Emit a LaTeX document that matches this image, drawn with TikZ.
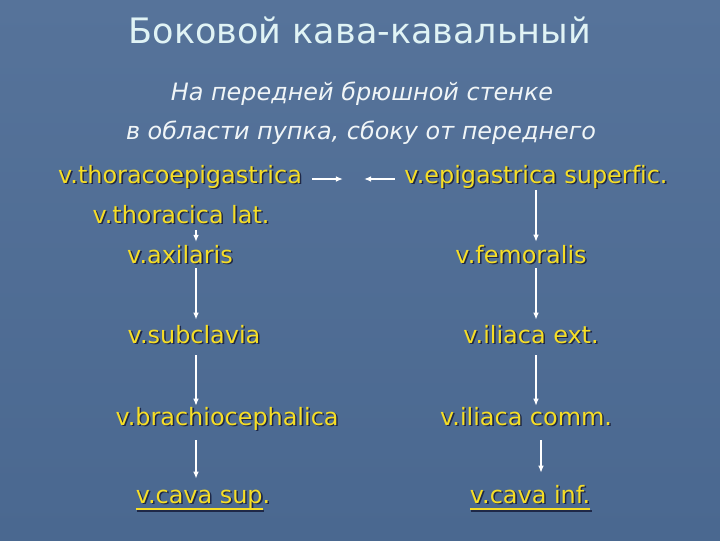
\documentclass[tikz,border=0pt]{standalone}
\usepackage{fontspec}
\setmainfont{DejaVu Sans}[Ligatures=NoCommon]
\usetikzlibrary{arrows.meta}

\definecolor{slatetop}{RGB}{86,115,154}
\definecolor{slatebot}{RGB}{74,104,144}
\definecolor{vyellow}{RGB}{246,222,38}
\definecolor{vshade}{RGB}{30,40,72}
\definecolor{headcol}{RGB}{224,243,245}
\definecolor{notecol}{RGB}{240,245,247}

% dark drop shadow behind the vein names
\newcommand\vshadow[1]{\makebox[0pt][l]{\kern1.1pt\raisebox{-1.1pt}{\textcolor{vshade}{#1}}}#1}
% underline that sits just under the baseline
\newcommand\vunder[1]{\setbox0\hbox{#1}\rlap{\rule[-5pt]{\wd0}{1.4pt}}\box0}

\begin{document}
\begin{tikzpicture}[x=0.025cm,y=-0.025cm,
    title/.style={text=headcol, font=\fontsize{24.9}{30}\selectfont, inner sep=0pt, anchor=base},
    note/.style={text=notecol, font=\fontsize{17}{20}\selectfont\itshape, inner sep=0pt, anchor=base},
    vein/.style={text=vyellow, font=\fontsize{17}{20}\selectfont, inner sep=0pt, anchor=base,
        text height=12.8pt, text depth=2.8pt},
    flow/.style={draw=white, line width=0.9pt, -{Latex[length=5pt,width=4pt]}}]

    \shade[top color=slatetop, bottom color=slatebot] (0,0) rectangle (720,540);
    \useasboundingbox (0,0) rectangle (720,540);

    \node[title] (head) at (360,43) {Боковой кава-кавальный};
    \node[note] (where1) at (362,100) {На передней брюшной стенке};
    \node[note] (where2) at (361,139) {в области пупка, сбоку от переднего};

    % superior side
    \node[vein] (the) at (180,183) {\vshadow{v.thoracoepigastrica}};
    \node[vein] (thl) at (181,223) {\vshadow{v.thoracica lat.}};
    \node[vein] (axil) at (180,263) {\vshadow{v.axilaris}};
    \node[vein] (subcl) at (194,343) {\vshadow{v.subclavia}};
    \node[vein] (brach) at (227,425) {\vshadow{v.brachiocephalica}};
    \node[vein] (csup) at (203,503) {\vshadow{\vunder{v.cava sup}.}};

    % inferior side
    \node[vein] (eps) at (536,183) {\vshadow{v.epigastrica superfic.}};
    \node[vein] (fem) at (521,263) {\vshadow{v.femoralis}};
    \node[vein] (ilext) at (531,343) {\vshadow{v.iliaca ext.}};
    \node[vein] (ilcomm) at (526,425) {\vshadow{v.iliaca comm.}};
    \node[vein] (cinf) at (530,503) {\vshadow{\vunder{v.cava inf.}}};

    \coordinate (navel) at (353.5,179);
    \coordinate (lcol) at (196,0);
    \coordinate (rcol) at (536,0);
    \coordinate (rcol2) at (541,0);

    \draw[flow, shorten <=7pt, shorten >=7.5pt] (the.east |- navel) -- (navel);
    \draw[flow, shorten <=6.4pt, shorten >=7.5pt] (eps.west |- navel) -- (navel);

    \draw[flow, shorten <=2pt, shorten >=2pt] (thl.south -| lcol) -- (axil.north -| lcol);
    \draw[flow, shorten <=0.7pt, shorten >=3.6pt] (axil.south -| lcol) -- (subcl.north -| lcol);
    \draw[flow, shorten <=5.7pt, shorten >=0.7pt] (subcl.south -| lcol) -- (brach.north -| lcol);
    \draw[flow, shorten <=7.8pt, shorten >=4.3pt] (brach.south -| lcol) -- (csup.north -| lcol);

    \draw[flow, shorten <=2.1pt, shorten >=2.1pt] (eps.south -| rcol) -- (fem.north -| rcol);
    \draw[flow, shorten <=0.7pt, shorten >=3.6pt] (fem.south -| rcol) -- (ilext.north -| rcol);
    \draw[flow, shorten <=5.7pt, shorten >=0.7pt] (ilext.south -| rcol) -- (ilcomm.north -| rcol);
    \draw[flow, shorten <=7.8pt, shorten >=8.5pt] (ilcomm.south -| rcol2) -- (cinf.north -| rcol2);
\end{tikzpicture}
\end{document}
